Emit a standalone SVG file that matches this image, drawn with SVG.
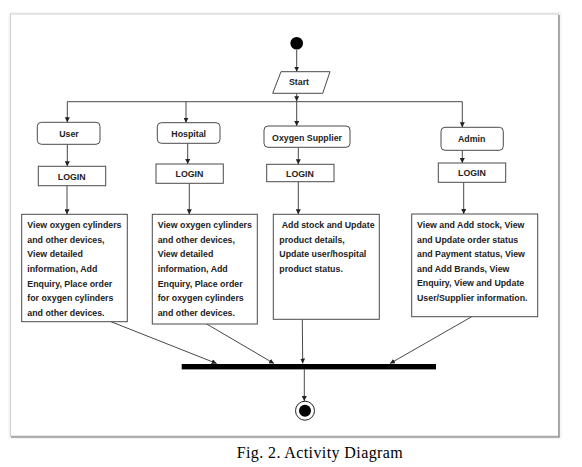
<svg xmlns="http://www.w3.org/2000/svg" width="582" height="467" viewBox="0 0 582 467">
<style>
.box{fill:#fff;stroke:#4a4a4a;stroke-width:1}
.t{font-family:"Liberation Sans",Arial,sans-serif;font-weight:bold;font-size:8.8px;fill:#222}
.c{text-anchor:middle}
.ln{stroke:#333;stroke-width:0.9;fill:none;marker-end:url(#ah)}
.pl{stroke:#333;stroke-width:0.9;fill:none}
</style>
<defs>
<marker id="ah" viewBox="0 0 6 6" refX="6" refY="3" markerWidth="5" markerHeight="5" orient="auto" markerUnits="userSpaceOnUse">
<path d="M0,0 L6,3 L0,6 z" fill="#222"/>
</marker>
</defs>
<rect width="582" height="467" fill="#fff"/>
<g id="frame">
<rect x="8.5" y="12" width="553" height="427" fill="#f4f4f4"/>
<rect x="10.5" y="14" width="548" height="422" fill="#fff" stroke="#cfcfcf" stroke-width="1"/>
<path d="M559 15 V437 H11" stroke="#999" stroke-width="1.6" fill="none"/>
</g>
<g id="connectors">
<path class="ln" d="M296.7 50 V71.7"/>
<path class="ln" d="M296.7 93.3 V101.2"/>
<path class="pl" d="M67.3 101.7 H462.3"/>
<path class="ln" d="M67.3 101.7 V122.3"/>
<path class="ln" d="M186 101.7 V122.7"/>
<path class="ln" d="M296.7 101.7 V126"/>
<path class="ln" d="M462.3 101.7 V127.3"/>
<path class="ln" d="M67.3 144.3 V166.3"/>
<path class="ln" d="M187.7 143.3 V164"/>
<path class="ln" d="M298.3 147.3 V164.3"/>
<path class="ln" d="M462.3 150.3 V163"/>
<path class="ln" d="M67 185.7 V214.3"/>
<path class="ln" d="M189.3 183.3 V214.3"/>
<path class="ln" d="M298.3 181.7 V214.3"/>
<path class="ln" d="M463.7 182.3 V214"/>
<path class="ln" d="M111 321.7 L216.7 363.5"/>
<path class="ln" d="M206.7 324 L274 363.5"/>
<path class="ln" d="M302.3 319.3 L302.7 363.5"/>
<path class="ln" d="M471.7 316.7 L390 363.5"/>
<path class="ln" d="M304.3 369.3 V401"/>
</g>
<g id="start-node">
<circle cx="296.7" cy="43.3" r="6.3" fill="#000"/>
</g>
<g id="start">
<polygon points="281,71.7 330,71.7 322.7,93.3 272.7,93.3" class="box"/>
<text x="299" y="85.3" class="t c">Start</text>
</g>
<g id="user">
<rect x="37.3" y="122.3" width="62.7" height="22" rx="4" class="box"/>
<text x="69" y="136.5" class="t c">User</text>
</g>
<g id="hospital">
<rect x="157.3" y="122.7" width="62.7" height="20.6" rx="4" class="box"/>
<text x="188.7" y="136.7" class="t c">Hospital</text>
</g>
<g id="oxygen-supplier">
<rect x="264" y="126" width="86" height="21.3" rx="4" class="box"/>
<text x="307" y="140.7" class="t c">Oxygen Supplier</text>
</g>
<g id="admin">
<rect x="441" y="127.3" width="62.3" height="23" rx="4" class="box"/>
<text x="471.7" y="142.3" class="t c">Admin</text>
</g>
<g id="login-user">
<rect x="38.3" y="166.3" width="67.4" height="19.4" class="box"/>
<text x="71.7" y="179.7" class="t c">LOGIN</text>
</g>
<g id="login-hospital">
<rect x="156" y="164" width="67.3" height="19.3" class="box"/>
<text x="189.5" y="177.3" class="t c">LOGIN</text>
</g>
<g id="login-supplier">
<rect x="266.7" y="164.3" width="67.3" height="17.4" class="box"/>
<text x="300" y="176.7" class="t c">LOGIN</text>
</g>
<g id="login-admin">
<rect x="438.3" y="163" width="67.4" height="19.3" class="box"/>
<text x="472" y="176.3" class="t c">LOGIN</text>
</g>
<g id="user-actions">
<rect x="21.7" y="214.3" width="105.6" height="107.4" class="box"/>
<text class="t">
<tspan x="27.3" y="228">View oxygen cylinders</tspan>
<tspan x="27.3" y="242.7">and other devices,</tspan>
<tspan x="27.3" y="257.3">View detailed</tspan>
<tspan x="27.3" y="272">information, Add</tspan>
<tspan x="27.3" y="286.7">Enquiry, Place order</tspan>
<tspan x="27.3" y="301.3">for oxygen cylinders</tspan>
<tspan x="27.3" y="316">and other devices.</tspan>
</text>
</g>
<g id="hospital-actions">
<rect x="152.3" y="214.3" width="105" height="109.7" class="box"/>
<text class="t">
<tspan x="157.7" y="228">View oxygen cylinders</tspan>
<tspan x="157.7" y="242.7">and other devices,</tspan>
<tspan x="157.7" y="257.3">View detailed</tspan>
<tspan x="157.7" y="272">information, Add</tspan>
<tspan x="157.7" y="286.7">Enquiry, Place order</tspan>
<tspan x="157.7" y="301.3">for oxygen cylinders</tspan>
<tspan x="157.7" y="316">and other devices.</tspan>
</text>
</g>
<g id="supplier-actions">
<rect x="273.3" y="214.3" width="106" height="105" class="box"/>
<text class="t">
<tspan x="281.7" y="228">Add stock and Update</tspan>
<tspan x="279.3" y="242.7">product details,</tspan>
<tspan x="279.3" y="257.3">Update user/hospital</tspan>
<tspan x="279.3" y="272">product status.</tspan>
</text>
</g>
<g id="admin-actions">
<rect x="411.7" y="214" width="126" height="102.7" class="box"/>
<text class="t">
<tspan x="417" y="228">View and Add stock, View</tspan>
<tspan x="417" y="242.5">and Update order status</tspan>
<tspan x="417" y="257">and Payment status, View</tspan>
<tspan x="417" y="271.5">and Add Brands, View</tspan>
<tspan x="417" y="286">Enquiry, View and Update</tspan>
<tspan x="417" y="300.7">User/Supplier information.</tspan>
</text>
</g>
<g id="join-bar">
<rect x="181.7" y="364" width="254.3" height="5.4" fill="#000"/>
</g>
<g id="end-node">
<circle cx="305" cy="410.7" r="9.5" fill="#fff" stroke="#222" stroke-width="1"/>
<circle cx="305" cy="410.7" r="6" fill="#000"/>
</g>
<text x="236.7" y="458" font-family="Liberation Serif,'Times New Roman',serif" font-size="16" fill="#000" textLength="166">Fig. 2. Activity Diagram</text>
</svg>
